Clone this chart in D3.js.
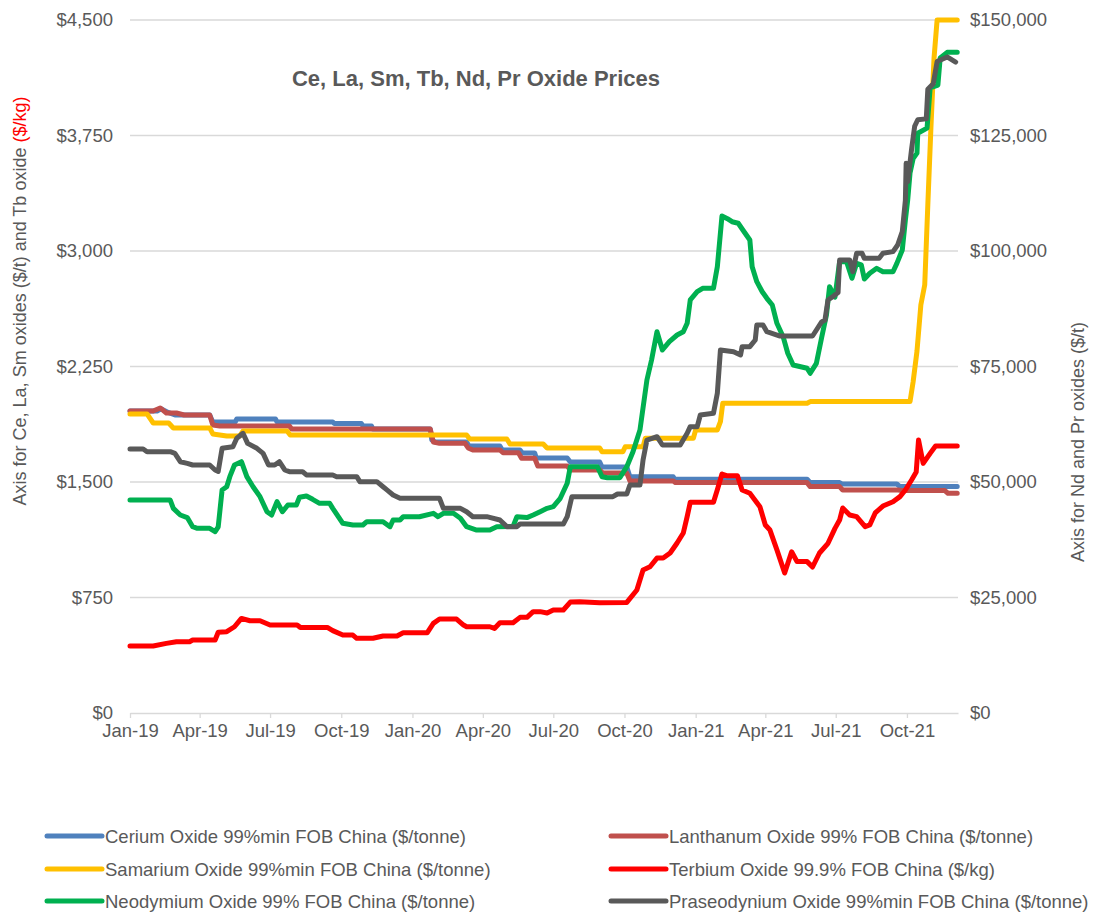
<!DOCTYPE html>
<html>
<head>
<meta charset="utf-8">
<title>Ce, La, Sm, Tb, Nd, Pr Oxide Prices</title>
<script src="https://cdn.jsdelivr.net/npm/d3@7"></script>
<style>
  body { margin: 0; background: #fff; }
  svg text { font-family: "Liberation Sans", Arial, sans-serif; fill: #595959; }
</style>
</head>
<body>
<script>
// prices, [date, value]
const ceriumData = [
  ["2019-01-01",1961],["2019-02-05",1961],["2019-02-10",1975],["2019-02-20",1950],["2019-03-01",1935],
  ["2019-04-14",1935],["2019-04-18",1890],["2019-05-17",1890],["2019-05-19",1909],["2019-07-08",1909],
  ["2019-07-10",1890],["2019-09-20",1890],["2019-09-22",1880],["2019-10-27",1880],["2019-10-29",1864],
  ["2019-11-09",1864],["2019-11-11",1844],["2020-01-24",1844],["2020-01-26",1773],["2020-01-30",1760],
  ["2020-03-11",1760],["2020-03-14",1734],["2020-04-23",1734],["2020-04-26",1708],["2020-05-19",1708],
  ["2020-05-22",1688],["2020-06-07",1688],["2020-06-09",1656],["2020-07-19",1656],["2020-07-23",1630],
  ["2020-08-30",1630],["2020-09-02",1597],["2020-10-04",1597],["2020-10-08",1534],["2020-12-03",1534],
  ["2020-12-05",1518],["2021-05-25",1518],["2021-05-29",1496],["2021-07-06",1496],["2021-07-09",1487],
  ["2021-09-18",1487],["2021-09-22",1470],["2021-12-05",1470]
];
const lanthanumData = [
  ["2019-01-01",1961],["2019-01-31",1961],["2019-02-09",1981],["2019-02-17",1948],["2019-03-02",1948],
  ["2019-03-12",1935],["2019-04-14",1935],["2019-04-18",1870],["2019-04-27",1864],["2019-07-26",1864],
  ["2019-07-29",1844],["2020-01-24",1844],["2020-01-28",1760],["2020-02-05",1751],["2020-03-09",1751],
  ["2020-03-13",1721],["2020-03-19",1708],["2020-04-23",1708],["2020-04-27",1690],["2020-05-17",1690],
  ["2020-05-21",1654],["2020-06-07",1654],["2020-06-11",1604],["2020-07-19",1604],["2020-07-23",1578],
  ["2020-08-30",1578],["2020-09-03",1558],["2020-10-04",1558],["2020-10-08",1507],["2020-12-03",1507],
  ["2020-12-06",1496],["2021-05-25",1496],["2021-05-29",1470],["2021-07-06",1470],["2021-07-10",1448],
  ["2021-09-20",1448],["2021-09-24",1444],["2021-11-19",1444],["2021-11-23",1427],["2021-12-05",1427]
];
const samariumData = [
  ["2019-01-01",1942],["2019-01-23",1942],["2019-01-31",1883],["2019-02-20",1883],["2019-02-26",1851],
  ["2019-04-14",1851],["2019-04-18",1812],["2019-05-06",1799],["2019-05-23",1799],["2019-05-27",1831],
  ["2019-07-23",1831],["2019-07-27",1805],["2020-03-11",1805],["2020-03-15",1779],["2020-05-02",1779],
  ["2020-05-06",1747],["2020-06-18",1747],["2020-06-23",1721],["2020-08-30",1721],["2020-09-02",1697],
  ["2020-09-29",1697],["2020-10-02",1729],["2020-10-25",1729],["2020-10-28",1784],["2020-12-29",1784],
  ["2021-01-01",1838],["2021-01-29",1838],["2021-02-02",1892],["2021-02-05",2011],["2021-05-25",2011],
  ["2021-05-29",2022],["2021-10-05",2022],["2021-10-09",2150],["2021-10-14",2350],["2021-10-19",2650],
  ["2021-10-24",2780],["2021-10-28",3300],["2021-11-01",3800],["2021-11-05",4250],["2021-11-09",4500],
  ["2021-12-05",4500]
];
const terbiumData = [
  ["2019-01-01",435],["2019-01-31",435],["2019-02-17",452],["2019-03-02",463],["2019-03-19",463],
  ["2019-03-23",474],["2019-04-21",474],["2019-04-25",524],["2019-05-06",528],["2019-05-16",560],
  ["2019-05-25",614],["2019-06-05",599],["2019-06-18",599],["2019-07-01",571],["2019-08-05",571],
  ["2019-08-09",556],["2019-09-13",556],["2019-09-20",535],["2019-10-03",506],["2019-10-16",506],
  ["2019-10-21",485],["2019-11-11",485],["2019-11-24",500],["2019-12-12",500],["2019-12-20",521],
  ["2020-01-20",521],["2020-01-28",582],["2020-02-05",610],["2020-02-27",610],["2020-03-07",571],
  ["2020-03-11",560],["2020-04-10",560],["2020-04-16",549],["2020-04-23",586],["2020-05-10",586],
  ["2020-05-19",621],["2020-05-28",621],["2020-06-05",658],["2020-06-14",658],["2020-06-23",649],
  ["2020-07-01",669],["2020-07-14",669],["2020-07-23",720],["2020-08-04",722],["2020-08-30",716],
  ["2020-10-04",718],["2020-10-17",799],["2020-10-25",929],["2020-11-03",950],["2020-11-12",1006],
  ["2020-11-20",1006],["2020-11-29",1039],["2020-12-08",1104],["2020-12-16",1169],["2020-12-21",1275],
  ["2020-12-25",1368],["2021-01-24",1368],["2021-01-29",1450],["2021-02-04",1552],["2021-02-11",1540],
  ["2021-02-24",1540],["2021-03-02",1448],["2021-03-12",1427],["2021-03-25",1340],["2021-04-01",1221],
  ["2021-04-07",1188],["2021-04-16",1059],["2021-04-26",909],["2021-05-05",1047],["2021-05-12",983],
  ["2021-05-25",983],["2021-06-01",948],["2021-06-10",1039],["2021-06-21",1102],["2021-06-30",1199],
  ["2021-07-06",1253],["2021-07-10",1331],["2021-07-19",1286],["2021-07-28",1275],["2021-08-08",1210],
  ["2021-08-14",1221],["2021-08-21",1299],["2021-08-31",1344],["2021-09-13",1372],["2021-09-22",1405],
  ["2021-09-29",1448],["2021-10-07",1513],["2021-10-13",1565],["2021-10-16",1773],["2021-10-22",1621],
  ["2021-10-31",1686],["2021-11-07",1734],["2021-12-05",1734]
];
const neodymiumData = [
  ["2019-01-01",46100],["2019-02-22",46100],["2019-02-26",44300],["2019-03-07",42860],["2019-03-16",42300],
  ["2019-03-23",40330],["2019-03-29",39980],["2019-04-14",39980],["2019-04-21",39240],["2019-04-25",40300],
  ["2019-04-30",48270],["2019-05-06",48980],["2019-05-10",51150],["2019-05-16",53680],["2019-05-25",54390],
  ["2019-06-01",51150],["2019-06-09",48980],["2019-06-18",46820],["2019-06-27",43570],["2019-07-03",42860],
  ["2019-07-10",45740],["2019-07-17",43570],["2019-07-24",45020],["2019-08-04",45020],["2019-08-08",46690],
  ["2019-08-17",46970],["2019-08-25",46250],["2019-09-03",45390],["2019-09-16",45390],["2019-09-20",44300],
  ["2019-10-03",41060],["2019-10-16",40690],["2019-10-29",40690],["2019-11-03",41410],["2019-11-24",41410],
  ["2019-12-03",40330],["2019-12-07",41780],["2019-12-16",41780],["2019-12-20",42490],["2020-01-10",42490],
  ["2020-01-28",43220],["2020-02-03",42500],["2020-02-10",43220],["2020-02-23",43220],["2020-03-03",42140],
  ["2020-03-11",40330],["2020-03-24",39610],["2020-04-10",39610],["2020-04-19",40330],["2020-05-10",40400],
  ["2020-05-15",42490],["2020-05-28",42300],["2020-06-05",42860],["2020-06-14",43570],["2020-06-23",44300],
  ["2020-07-01",44660],["2020-07-10",46470],["2020-07-19",49720],["2020-07-23",53310],["2020-08-27",53310],
  ["2020-09-02",51150],["2020-09-09",50930],["2020-09-25",50930],["2020-10-04",53310],["2020-10-12",56560],
  ["2020-10-21",61260],["2020-10-30",72080],["2020-11-05",76410],["2020-11-12",82530],["2020-11-19",78570],
  ["2020-11-28",80370],["2020-12-08",81820],["2020-12-16",82530],["2020-12-21",84350],["2020-12-25",89400],
  ["2021-01-03",91190],["2021-01-10",91920],["2021-01-24",91920],["2021-01-29",96600],["2021-02-04",107580],
  ["2021-02-11",107000],["2021-02-17",106340],["2021-02-25",106000],["2021-03-03",104550],["2021-03-12",102380],
  ["2021-03-15",96600],["2021-03-21",93360],["2021-03-28",91190],["2021-04-03",89760],["2021-04-10",88310],
  ["2021-04-16",84350],["2021-04-24",81450],["2021-04-30",77860],["2021-05-07",75320],["2021-05-25",74610],
  ["2021-05-29",73530],["2021-06-06",75690],["2021-06-13",81450],["2021-06-19",86150],["2021-06-23",92270],
  ["2021-06-30",90000],["2021-07-06",97690],["2021-07-15",97690],["2021-07-22",94090],["2021-07-28",97330],
  ["2021-08-03",97000],["2021-08-07",93940],["2021-08-14",95170],["2021-08-23",96250],["2021-08-31",95520],
  ["2021-09-13",95520],["2021-09-18",97330],["2021-09-25",100220],["2021-09-29",106710],["2021-10-02",111040],
  ["2021-10-05",116900],["2021-10-09",120000],["2021-10-14",121200],["2021-10-15",125500],["2021-10-27",126600],
  ["2021-10-31",135300],["2021-11-10",135900],["2021-11-13",141800],["2021-11-22",143000],["2021-12-05",143000]
];
const praseodymiumData = [
  ["2019-01-01",57140],["2019-01-18",57140],["2019-01-23",56560],["2019-02-22",56560],["2019-02-28",56200],
  ["2019-03-07",54390],["2019-03-16",54030],["2019-03-23",53680],["2019-04-14",53680],["2019-04-21",52600],
  ["2019-04-25",52300],["2019-04-30",57290],["2019-05-14",57640],["2019-05-19",59460],["2019-05-27",60540],
  ["2019-06-02",58370],["2019-06-14",57290],["2019-06-22",56190],["2019-06-29",53680],["2019-07-07",53680],
  ["2019-07-13",54390],["2019-07-20",52600],["2019-07-26",52240],["2019-08-12",52240],["2019-08-17",51520],
  ["2019-09-20",51520],["2019-09-25",51150],["2019-10-21",51150],["2019-10-25",50070],["2019-11-16",50070],
  ["2019-11-24",48980],["2019-11-29",48300],["2019-12-07",47190],["2019-12-16",46470],["2020-02-05",46470],
  ["2020-02-10",44300],["2020-03-03",44300],["2020-03-11",43570],["2020-03-19",42490],["2020-04-06",42490],
  ["2020-04-23",41780],["2020-05-02",40330],["2020-05-15",40330],["2020-05-19",40910],["2020-07-14",40910],
  ["2020-07-19",42500],["2020-07-25",46820],["2020-09-16",46820],["2020-09-22",47400],["2020-10-04",47400],
  ["2020-10-08",49350],["2020-10-21",49350],["2020-10-25",54760],["2020-10-30",59090],["2020-11-12",59810],
  ["2020-11-19",58010],["2020-12-12",58010],["2020-12-21",60540],["2020-12-25",61980],["2021-01-03",61980],
  ["2021-01-07",64500],["2021-01-24",64870],["2021-01-29",69200],["2021-02-02",78570],["2021-02-19",78210],
  ["2021-02-28",77490],["2021-03-02",79290],["2021-03-12",79290],["2021-03-19",80740],["2021-03-21",83980],
  ["2021-03-29",83980],["2021-04-03",82530],["2021-04-20",81600],["2021-06-01",81600],["2021-06-06",82900],
  ["2021-06-13",84700],["2021-06-17",85000],["2021-06-21",89400],["2021-06-27",90110],["2021-07-04",91000],
  ["2021-07-06",98050],["2021-07-19",98050],["2021-07-23",95520],["2021-07-28",99500],["2021-08-04",99500],
  ["2021-08-07",98410],["2021-08-26",98410],["2021-08-31",99500],["2021-09-13",99860],["2021-09-19",101300],
  ["2021-09-25",104180],["2021-09-29",111000],["2021-09-30",119000],["2021-10-02",115000],["2021-10-07",122000],
  ["2021-10-11",127000],["2021-10-15",128400],["2021-10-26",128600],["2021-10-28",135000],["2021-11-04",136200],
  ["2021-11-09",141000],["2021-11-22",142000],["2021-12-03",140900]
];

const seriesNames = [
  "Cerium Oxide 99%min FOB China ($/tonne)",
  "Lanthanum Oxide 99% FOB China ($/tonne)",
  "Samarium Oxide 99%min FOB China ($/tonne)",
  "Terbium Oxide 99.9% FOB China ($/kg)",
  "Neodymium Oxide 99% FOB China ($/tonne)",
  "Praseodynium Oxide 99%min FOB China ($/tonne)"
];
const seriesData = [ceriumData, lanthanumData, samariumData, terbiumData, neodymiumData, praseodymiumData];
const seriesAxis = ["left", "left", "left", "left", "right", "right"];
const seriesColors = ["#4F81BD", "#C0504D", "#FFC000", "#FF0000", "#00B050", "#595959"];

const leftTicks = [0, 750, 1500, 2250, 3000, 3750, 4500];
const rightTicks = [0, 25000, 50000, 75000, 100000, 125000, 150000];
const dateRange = ["2019-01-01", "2021-12-06"];

const parse = d3.timeParse("%Y-%m-%d");

const plotLeft = 130, plotRight = 958, plotTop = 20, plotBottom = 713;

const svg = d3.select("body").append("svg")
  .attr("width", 1108)
  .attr("height", 914);

const x = d3.scaleTime()
  .domain(dateRange.map(parse))
  .range([plotLeft, plotRight]);

const yLeft = d3.scaleLinear().domain([0, 4500]).range([plotBottom, plotTop]);
const yRight = d3.scaleLinear().domain([0, 150000]).range([plotBottom, plotTop]);

const money = d3.format("$,");

// gridlines
svg.append("g")
  .selectAll("line")
  .data(leftTicks.slice(1))
  .join("line")
  .attr("x1", plotLeft).attr("x2", plotRight)
  .attr("y1", d => yLeft(d)).attr("y2", d => yLeft(d))
  .attr("stroke", "#D9D9D9")
  .attr("stroke-width", 1.3);

// left axis
const gl = svg.append("g")
  .attr("transform", `translate(${plotLeft},0)`)
  .call(d3.axisLeft(yLeft).tickValues(leftTicks).tickFormat(money).tickSize(0).tickPadding(17));
gl.select(".domain").remove();
gl.selectAll("text").style("font-size", "18.5px");

// right axis
const gr = svg.append("g")
  .attr("transform", `translate(${plotRight},0)`)
  .call(d3.axisRight(yRight).tickValues(rightTicks).tickFormat(money).tickSize(0).tickPadding(12));
gr.select(".domain").remove();
gr.selectAll("text").style("font-size", "18.5px");

// bottom axis
const quarters = d3.timeMonth.every(3).range(parse("2019-01-01"), parse("2021-12-01"));
const gx = svg.append("g")
  .attr("transform", `translate(0,${plotBottom})`)
  .call(d3.axisBottom(x).tickValues(quarters).tickFormat(d3.timeFormat("%b-%y")).tickSize(5).tickSizeOuter(0).tickPadding(6));
gx.select(".domain").attr("stroke", "#D9D9D9").attr("stroke-width", 1.3);
gx.selectAll(".tick line").attr("stroke", "#D9D9D9").attr("stroke-width", 1.3);
gx.selectAll("text").style("font-size", "18.5px");

// lines
seriesData.forEach((data, i) => {
  const y = seriesAxis[i] === "left" ? yLeft : yRight;
  const line = d3.line()
    .x(d => x(parse(d[0])))
    .y(d => y(d[1]));
  svg.append("path")
    .datum(data)
    .attr("d", line)
    .attr("fill", "none")
    .attr("stroke", seriesColors[i])
    .attr("stroke-width", 5)
    .attr("stroke-linejoin", "round")
    .attr("stroke-linecap", "round");
});

// title
svg.append("text")
  .attr("x", 476).attr("y", 86)
  .attr("text-anchor", "middle")
  .style("font-size", "22px")
  .style("font-weight", "bold")
  .text("Ce, La, Sm, Tb, Nd, Pr Oxide Prices");

// axis titles
const lt = svg.append("text")
  .attr("transform", "translate(26,301) rotate(-90)")
  .attr("text-anchor", "middle")
  .style("font-size", "18px");
lt.append("tspan").text("Axis for Ce, La, Sm oxides ($/t) and Tb oxide ");
lt.append("tspan").style("fill", "#FF0000").text("($/kg)");

svg.append("text")
  .attr("transform", "translate(1084,442) rotate(-90)")
  .attr("text-anchor", "middle")
  .style("font-size", "18px")
  .text("Axis for Nd and Pr oxides ($/t)");

// legend
const legendX = [47, 611];
const legendY = [836, 869, 901];
const lg = svg.append("g")
  .selectAll("g")
  .data(seriesNames)
  .join("g")
  .attr("transform", (d, i) => `translate(${legendX[i % 2]},${legendY[Math.floor(i / 2)]})`);
lg.append("line")
  .attr("x1", 0).attr("x2", 55)
  .attr("stroke", (d, i) => seriesColors[i])
  .attr("stroke-width", 5)
  .attr("stroke-linecap", "round");
lg.append("text")
  .attr("x", 58).attr("y", 6.5)
  .style("font-size", "18.5px")
  .text(d => d);
</script>
</body>
</html>
